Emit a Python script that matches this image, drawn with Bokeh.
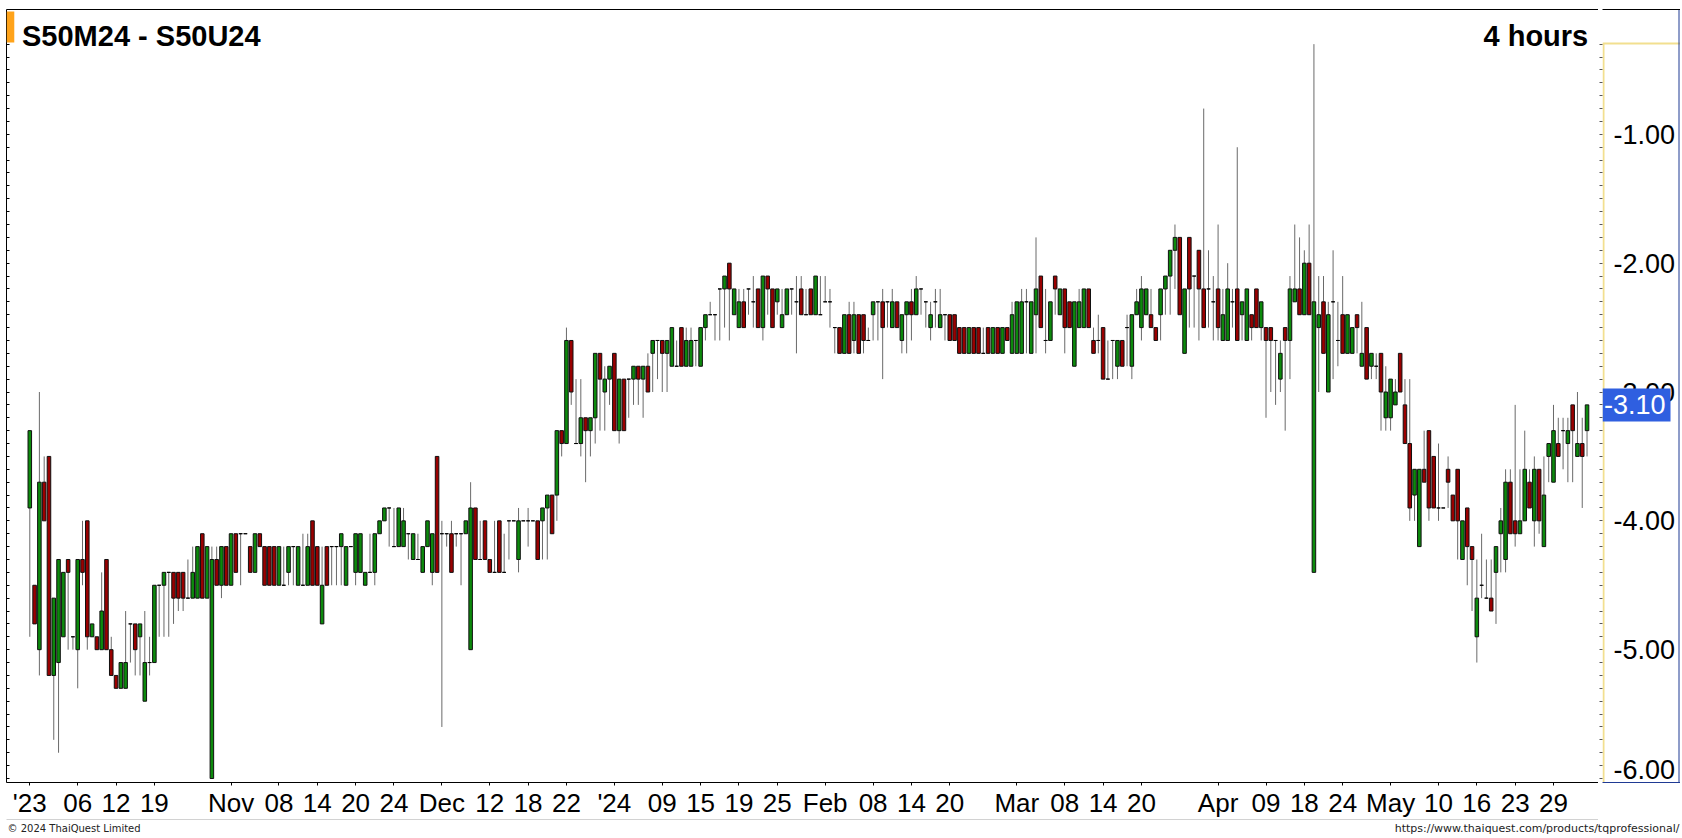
from bokeh.plotting import figure
from bokeh.layouts import row, column
from bokeh.models import ColumnDataSource, Range1d, LinearAxis, FixedTicker, Label
from bokeh.core.properties import value
from bokeh.embed import file_html
from bokeh.resources import INLINE

TITLE = "S50M24 - S50U24"
PERIOD = "4 hours"
COPYRIGHT = "\u00a9 2024  ThaiQuest Limited"
URL = "https://www.thaiquest.com/products/tqprofessional/"

OPEN = [
 -3.9,-4.5,-5.0,-3.7,-3.5,-5.2,-5.1,-4.9,-4.3,-4.9,
 -5.0,-4.3,-4.0,-4.9,-4.9,-5.0,-4.3,-5.0,-5.2,-5.3,
 -5.3,-4.8,-4.8,-4.9,-5.4,-5.1,-5.1,-4.5,-4.5,-4.4,
 -4.4,-4.4,-4.4,-4.6,-4.6,-4.6,-4.1,-4.6,-6.0,-4.3,
 -4.5,-4.2,-4.5,-4.1,-4.1,-4.1,-4.2,-4.4,-4.1,-4.2,
 -4.2,-4.2,-4.5,-4.5,-4.4,-4.2,-4.5,-4.5,-4.5,-4.0,
 -4.2,-4.8,-4.2,-4.2,-4.2,-4.2,-4.5,-4.2,-4.4,-4.4,
 -4.5,-4.4,-4.4,-4.1,-4.0,-3.9,-4.2,-4.2,-4.2,-4.1,
 -4.3,-4.3,-4.4,-4.2,-4.4,-3.5,-4.1,-4.1,-4.1,-4.1,
 -4.1,-4.1,-5.0,-3.9,-4.3,-4.0,-4.3,-4.4,-4.0,-4.4,
 -4.0,-4.0,-4.3,-4.0,-4.0,-4.0,-4.0,-4.0,-3.9,-3.8,
 -3.8,-3.3,-3.4,-2.6,-3.4,-3.4,-3.2,-3.3,-3.2,-2.7,
 -3.0,-2.9,-2.7,-3.3,-2.9,-2.9,-2.9,-2.8,-2.9,-2.8,
 -2.7,-2.6,-2.6,-2.7,-2.8,-2.8,-2.5,-2.8,-2.8,-2.6,
 -2.8,-2.5,-2.4,-2.4,-2.2,-2.2,-2.0,-2.4,-2.5,-2.3,
 -2.2,-2.3,-2.2,-2.5,-2.1,-2.2,-2.3,-2.5,-2.4,-2.2,
 -2.3,-2.2,-2.4,-2.2,-2.4,-2.4,-2.3,-2.3,-2.5,-2.5,
 -2.7,-2.4,-2.6,-2.4,-2.4,-2.6,-2.4,-2.3,-2.3,-2.3,
 -2.5,-2.3,-2.6,-2.4,-2.3,-2.4,-2.2,-2.3,-2.5,-2.3,
 -2.5,-2.4,-2.4,-2.4,-2.5,-2.5,-2.7,-2.5,-2.5,-2.7,
 -2.5,-2.7,-2.5,-2.7,-2.5,-2.7,-2.7,-2.7,-2.3,-2.7,
 -2.4,-2.1,-2.6,-2.6,-2.1,-2.4,-2.2,-2.3,-2.8,-2.5,
 -2.5,-2.2,-2.6,-2.6,-2.5,-2.9,-2.6,-2.8,-2.6,-2.5,
 -2.8,-2.4,-2.5,-2.4,-2.4,-2.5,-2.4,-2.2,-2.1,-1.9,
 -1.8,-2.7,-1.8,-2.1,-1.9,-2.2,-2.2,-2.3,-2.2,-2.6,
 -2.6,-2.3,-2.2,-2.4,-2.6,-2.4,-2.2,-2.5,-2.5,-2.5,
 -2.6,-2.9,-2.5,-2.6,-2.3,-2.2,-2.4,-2.0,-4.4,-2.5,
 -2.3,-3.0,-2.3,-2.6,-2.4,-2.7,-2.7,-2.4,-2.8,-2.5,
 -2.8,-2.8,-2.7,-3.2,-3.2,-3.1,-2.7,-3.1,-3.4,-3.8,
 -4.2,-3.6,-3.3,-3.5,-3.9,-3.9,-3.6,-3.8,-3.6,-4.3,
 -3.9,-4.2,-4.9,-4.5,-4.6,-4.6,-4.4,-4.1,-4.3,-3.7,
 -4.0,-4.1,-4.0,-3.7,-4.0,-3.6,-4.2,-3.5,-3.7,-3.4,
 -3.3,-3.4,-3.1,-3.5,-3.4,-3.3,
]
HIGH = [
 -3.3,-4.5,-3.0,-3.5,-3.5,-4.6,-4.3,-4.4,-4.3,-4.9,
 -4.3,-4.0,-4.0,-4.8,-4.9,-4.4,-4.3,-4.9,-5.2,-5.1,
 -4.7,-4.8,-4.8,-4.8,-4.7,-4.9,-4.5,-4.5,-4.4,-4.4,
 -4.4,-4.4,-4.4,-4.3,-4.2,-4.2,-4.1,-4.2,-4.2,-4.2,
 -4.2,-4.2,-4.1,-4.1,-4.1,-4.1,-4.2,-4.1,-4.1,-4.2,
 -4.2,-4.2,-4.2,-4.2,-4.2,-4.2,-4.2,-4.1,-4.1,-4.0,
 -4.2,-4.2,-4.2,-4.2,-4.2,-4.1,-4.2,-4.2,-4.1,-4.1,
 -4.4,-4.1,-4.1,-4.0,-3.9,-3.9,-3.9,-3.9,-3.9,-4.1,
 -4.1,-4.1,-4.2,-4.0,-4.1,-3.5,-4.0,-4.1,-4.0,-4.1,
 -4.1,-4.0,-3.7,-3.9,-4.0,-4.0,-4.3,-4.0,-4.0,-4.1,
 -4.0,-4.0,-3.9,-4.0,-3.9,-4.0,-4.0,-3.9,-3.8,-3.8,
 -3.3,-3.3,-2.5,-2.6,-2.9,-2.9,-3.2,-3.2,-2.7,-2.7,
 -2.8,-2.8,-2.7,-2.9,-2.9,-2.9,-2.8,-2.8,-2.8,-2.7,
 -2.6,-2.6,-2.6,-2.6,-2.5,-2.6,-2.5,-2.5,-2.5,-2.6,
 -2.5,-2.4,-2.3,-2.4,-2.2,-2.1,-2.0,-2.2,-2.2,-2.2,
 -2.2,-2.1,-2.2,-2.1,-2.1,-2.2,-2.2,-2.2,-2.2,-2.2,
 -2.1,-2.1,-2.2,-2.2,-2.1,-2.1,-2.1,-2.2,-2.5,-2.5,
 -2.4,-2.3,-2.3,-2.4,-2.4,-2.5,-2.3,-2.3,-2.2,-2.3,
 -2.2,-2.3,-2.4,-2.3,-2.2,-2.1,-2.2,-2.3,-2.3,-2.2,
 -2.2,-2.4,-2.4,-2.4,-2.5,-2.5,-2.5,-2.5,-2.5,-2.5,
 -2.5,-2.5,-2.5,-2.5,-2.5,-2.3,-2.3,-2.2,-2.2,-2.3,
 -1.8,-2.1,-2.2,-2.3,-2.1,-2.2,-2.2,-2.3,-2.3,-2.2,
 -2.2,-2.2,-2.5,-2.4,-2.5,-2.6,-2.6,-2.6,-2.6,-2.4,
 -2.4,-2.2,-2.1,-2.2,-2.2,-2.5,-2.2,-2.1,-1.9,-1.7,
 -1.8,-2.2,-1.8,-2.1,-1.9,-0.8,-1.9,-2.1,-1.7,-2.2,
 -2.0,-2.2,-1.1,-2.3,-2.2,-2.4,-2.2,-2.3,-2.5,-2.5,
 -2.6,-2.6,-2.5,-2.1,-1.7,-1.8,-1.9,-1.7,-0.3,-2.1,
 -2.1,-2.3,-1.9,-2.3,-2.1,-2.4,-2.5,-2.4,-2.3,-2.5,
 -2.7,-2.7,-2.7,-2.8,-2.9,-2.9,-2.7,-2.9,-2.9,-3.6,
 -3.6,-3.3,-3.3,-3.5,-3.4,-3.9,-3.5,-3.8,-3.6,-4.0,
 -3.9,-4.2,-4.3,-4.1,-4.3,-4.3,-4.2,-3.9,-3.6,-3.6,
 -3.1,-3.6,-3.3,-3.6,-3.5,-3.6,-3.5,-3.4,-3.1,-3.2,
 -3.2,-3.2,-3.1,-3.0,-3.2,-3.1,
]
LOW = [
 -4.9,-4.8,-5.2,-4.0,-5.2,-5.7,-5.8,-4.9,-5.0,-5.0,
 -5.3,-4.5,-5.0,-4.9,-5.0,-5.0,-5.0,-5.2,-5.3,-5.3,
 -5.3,-5.1,-5.2,-5.2,-5.4,-5.2,-5.1,-4.9,-4.9,-4.9,
 -4.8,-4.7,-4.7,-4.6,-4.6,-4.6,-4.6,-4.6,-6.0,-4.5,
 -4.6,-4.5,-4.5,-4.4,-4.5,-4.1,-4.4,-4.4,-4.2,-4.5,
 -4.5,-4.5,-4.5,-4.5,-4.5,-4.5,-4.5,-4.5,-4.5,-4.5,
 -4.5,-4.8,-4.5,-4.5,-4.5,-4.5,-4.5,-4.2,-4.5,-4.4,
 -4.5,-4.4,-4.5,-4.1,-4.0,-4.2,-4.2,-4.2,-4.2,-4.3,
 -4.3,-4.3,-4.4,-4.2,-4.5,-4.4,-5.6,-4.2,-4.4,-4.2,
 -4.5,-4.1,-5.0,-4.3,-4.3,-4.3,-4.4,-4.4,-4.4,-4.4,
 -4.3,-4.0,-4.4,-4.0,-4.2,-4.0,-4.3,-4.3,-4.3,-4.1,
 -4.0,-3.5,-3.4,-3.1,-3.4,-3.5,-3.7,-3.5,-3.4,-3.3,
 -3.3,-3.1,-3.3,-3.4,-3.3,-3.2,-3.1,-3.1,-3.2,-3.0,
 -3.0,-2.9,-3.0,-3.0,-2.8,-2.8,-2.8,-2.8,-2.8,-2.8,
 -2.8,-2.6,-2.4,-2.6,-2.6,-2.5,-2.6,-2.4,-2.5,-2.5,
 -2.4,-2.5,-2.5,-2.6,-2.4,-2.5,-2.4,-2.5,-2.4,-2.4,
 -2.7,-2.4,-2.4,-2.4,-2.4,-2.4,-2.3,-2.5,-2.7,-2.7,
 -2.7,-2.7,-2.7,-2.7,-2.7,-2.6,-2.6,-2.6,-2.9,-2.5,
 -2.5,-2.5,-2.7,-2.7,-2.6,-2.4,-2.4,-2.5,-2.6,-2.5,
 -2.5,-2.6,-2.6,-2.6,-2.7,-2.7,-2.7,-2.7,-2.7,-2.7,
 -2.7,-2.7,-2.7,-2.7,-2.6,-2.7,-2.7,-2.7,-2.7,-2.7,
 -2.7,-2.5,-2.7,-2.6,-2.4,-2.4,-2.7,-2.5,-2.8,-2.5,
 -2.5,-2.5,-2.7,-2.7,-2.9,-2.9,-2.9,-2.9,-2.8,-2.8,
 -2.9,-2.4,-2.6,-2.4,-2.5,-2.6,-2.6,-2.4,-2.4,-2.2,
 -2.4,-2.7,-2.5,-2.5,-2.6,-2.5,-2.5,-2.6,-2.6,-2.6,
 -2.6,-2.5,-2.6,-2.6,-2.6,-2.6,-2.5,-2.6,-3.2,-3.0,
 -3.1,-3.0,-3.3,-2.9,-2.3,-2.4,-2.4,-2.4,-4.4,-3.0,
 -2.7,-3.0,-2.9,-2.8,-2.7,-2.7,-2.7,-2.7,-2.8,-2.9,
 -2.9,-2.9,-3.3,-3.3,-3.3,-3.1,-3.0,-3.4,-4.0,-4.0,
 -4.2,-3.7,-4.0,-3.9,-4.0,-3.9,-3.9,-4.0,-4.3,-4.3,
 -4.5,-4.7,-5.1,-4.6,-4.6,-4.7,-4.8,-4.4,-4.4,-4.1,
 -4.2,-4.1,-4.0,-3.9,-4.2,-4.1,-4.2,-3.7,-3.7,-3.5,
 -3.6,-3.7,-3.7,-3.5,-3.9,-3.5,
]
CLOSE = [
 -3.3,-4.8,-3.7,-4.0,-5.2,-4.6,-4.3,-4.4,-4.4,-4.9,
 -4.3,-4.4,-4.9,-4.8,-5.0,-4.7,-5.0,-5.2,-5.3,-5.1,
 -5.1,-4.8,-5.0,-4.8,-5.1,-5.1,-4.5,-4.5,-4.4,-4.4,
 -4.6,-4.6,-4.6,-4.6,-4.4,-4.2,-4.6,-4.2,-4.3,-4.5,
 -4.2,-4.5,-4.1,-4.4,-4.1,-4.1,-4.4,-4.1,-4.2,-4.5,
 -4.5,-4.5,-4.2,-4.5,-4.2,-4.2,-4.2,-4.5,-4.2,-4.5,
 -4.5,-4.5,-4.5,-4.2,-4.2,-4.1,-4.2,-4.2,-4.1,-4.1,
 -4.4,-4.4,-4.1,-4.0,-3.9,-3.9,-4.2,-3.9,-4.0,-4.1,
 -4.1,-4.3,-4.2,-4.0,-4.1,-4.4,-4.1,-4.1,-4.4,-4.1,
 -4.1,-4.0,-3.9,-4.3,-4.3,-4.3,-4.4,-4.4,-4.4,-4.4,
 -4.0,-4.0,-4.0,-4.0,-4.0,-4.0,-4.3,-3.9,-3.8,-4.1,
 -3.3,-3.4,-2.6,-3.0,-3.4,-3.2,-3.3,-3.2,-2.7,-2.9,
 -2.9,-2.8,-3.3,-2.9,-3.3,-2.9,-2.8,-2.9,-2.8,-3.0,
 -2.6,-2.6,-2.7,-2.6,-2.5,-2.8,-2.8,-2.6,-2.6,-2.6,
 -2.5,-2.4,-2.4,-2.4,-2.2,-2.1,-2.2,-2.2,-2.3,-2.5,
 -2.2,-2.3,-2.5,-2.1,-2.2,-2.5,-2.2,-2.4,-2.2,-2.2,
 -2.3,-2.4,-2.4,-2.4,-2.1,-2.4,-2.3,-2.3,-2.5,-2.7,
 -2.4,-2.7,-2.4,-2.7,-2.6,-2.6,-2.3,-2.3,-2.5,-2.3,
 -2.3,-2.5,-2.4,-2.3,-2.4,-2.2,-2.2,-2.3,-2.4,-2.3,
 -2.4,-2.4,-2.6,-2.6,-2.7,-2.7,-2.5,-2.7,-2.7,-2.7,
 -2.7,-2.5,-2.7,-2.5,-2.6,-2.4,-2.3,-2.3,-2.3,-2.3,
 -2.2,-2.5,-2.6,-2.3,-2.2,-2.2,-2.5,-2.5,-2.3,-2.3,
 -2.2,-2.5,-2.7,-2.6,-2.9,-2.9,-2.6,-2.6,-2.8,-2.5,
 -2.4,-2.3,-2.2,-2.2,-2.5,-2.6,-2.2,-2.1,-1.9,-1.8,
 -2.4,-2.2,-2.2,-2.1,-2.2,-2.5,-2.2,-2.3,-2.5,-2.4,
 -2.2,-2.3,-2.6,-2.3,-2.2,-2.5,-2.5,-2.3,-2.6,-2.6,
 -2.6,-2.7,-2.6,-2.2,-2.2,-2.4,-2.0,-2.4,-2.3,-2.4,
 -2.7,-2.4,-2.3,-2.6,-2.7,-2.4,-2.5,-2.5,-2.7,-2.9,
 -2.7,-2.8,-3.0,-3.0,-2.9,-3.0,-3.0,-3.4,-3.9,-3.6,
 -3.6,-3.7,-3.9,-3.9,-3.9,-3.9,-3.7,-4.0,-4.0,-4.0,
 -4.2,-4.3,-4.6,-4.5,-4.6,-4.7,-4.2,-4.0,-3.7,-4.1,
 -4.1,-4.0,-3.6,-3.9,-3.6,-4.0,-3.8,-3.4,-3.3,-3.5,
 -3.3,-3.3,-3.3,-3.4,-3.5,-3.1,
]

TICK_BARS = [0, 10, 18, 26, 42, 52, 60, 68, 76, 86, 96, 104, 112, 122, 132, 140,
             148, 156, 166, 176, 184, 192, 206, 216, 224, 232, 248, 258, 266, 274,
             284, 294, 302, 310, 318]
TICK_LABELS = ["'23", "06", "12", "19", "Nov", "08", "14", "20", "24", "Dec", "12",
               "18", "22", "'24", "09", "15", "19", "25", "Feb", "08", "14", "20",
               "Mar", "08", "14", "20", "Apr", "09", "18", "24", "May", "10", "16",
               "23", "29"]
PRICE_TICKS = [-6.0, -5.0, -4.0, -3.0, -2.0, -1.0]
LAST = CLOSE[-1]

# ---------------------------------------------------------------- layout (page px)
TOTAL_W = 1680
MAIN_W, SIDE_W, TOP_H, FOOT_H = 1598, 82, 820, 16
FRAME_L, FRAME_R, FRAME_T, FRAME_B = 6.0, 1598.0, 9.0, 783.0
BOX_L, BOX_TOP = 1602.0, 43.0             # price box (left edge, top edge)
FIRST_BAR_PX, BAR_PX = 29.3, 4.7915
Y_TOP, Y_BOT = -0.031, -6.031
FH = FRAME_B - FRAME_T
PX_PER_UNIT = FH / (Y_TOP - Y_BOT)
BOX_TOP_V = Y_TOP - (BOX_TOP - FRAME_T) / PX_PER_UNIT

n = len(OPEN)
X = list(range(n))
body_top = [max(o, c) for o, c in zip(OPEN, CLOSE)]
body_bot = [min(o, c) for o, c in zip(OPEN, CLOSE)]


def subset(cond):
    ids = [i for i in X if cond(i)]
    return ColumnDataSource(dict(x=ids,
                                 top=[body_top[i] for i in ids],
                                 bottom=[body_bot[i] for i in ids]))


src_up = subset(lambda i: CLOSE[i] > OPEN[i])
src_dn = subset(lambda i: CLOSE[i] < OPEN[i])
src_dj = subset(lambda i: CLOSE[i] == OPEN[i])
src_w = ColumnDataSource(dict(x=X, high=HIGH, low=LOW))

yr = Range1d(Y_BOT, Y_TOP)
minor = [round(-6.0 + 0.1 * k, 1) for k in range(58)]   # -6.0 ... -0.3


def bare_axis(color, width=1):
    return LinearAxis(ticker=FixedTicker(ticks=[]), axis_line_color=color,
                      axis_line_width=width, major_tick_in=0, major_tick_out=0,
                      minor_tick_in=0, minor_tick_out=0, major_label_standoff=0)


# ================================================================ main chart
p = figure(width=MAIN_W, height=TOP_H, output_backend="svg", toolbar_location=None,
           x_range=Range1d((FRAME_L - FIRST_BAR_PX) / BAR_PX,
                           (FRAME_R - FIRST_BAR_PX) / BAR_PX),
           y_range=yr, x_axis_location=None, y_axis_location=None,
           min_border_left=int(FRAME_L), min_border_right=0,
           min_border_top=int(FRAME_T), min_border_bottom=int(TOP_H - FRAME_B))
p.grid.visible = False
p.outline_line_color = None
p.background_fill_color = "white"
p.border_fill_color = "white"

left = LinearAxis(ticker=FixedTicker(ticks=[], minor_ticks=minor), axis_line_color="black",
                  major_tick_in=0, major_tick_out=0, minor_tick_in=3, minor_tick_out=0,
                  minor_tick_line_color="black", major_label_standoff=0)
p.add_layout(left, "left")
p.add_layout(bare_axis("black"), "above")

bottom = LinearAxis(ticker=FixedTicker(ticks=TICK_BARS),
                    major_label_overrides=dict(zip(TICK_BARS, TICK_LABELS)),
                    axis_line_color="black", major_tick_in=0, major_tick_out=3,
                    minor_tick_in=0, minor_tick_out=0, major_tick_line_color="black",
                    major_label_text_font="Liberation Sans",
                    major_label_text_font_size="26px",
                    major_label_text_color="black", major_label_standoff=2)
p.add_layout(bottom, "below")
p.add_layout(bare_axis("#a6a6a6", 2), "below")

p.segment(x0="x", y0="low", x1="x", y1="high", source=src_w,
          line_color="#6a6a6a", line_width=1)
p.vbar(x="x", width=0.74, top="top", bottom="bottom", source=src_up,
       fill_color="#0c8a0c", line_color="#101010", line_width=1)
p.vbar(x="x", width=0.74, top="top", bottom="bottom", source=src_dn,
       fill_color="#9a0000", line_color="#101010", line_width=1)
p.vbar(x="x", width=0.74, top="top", bottom="bottom", source=src_dj,
       fill_color="black", line_color="black", line_width=1)

# screen units are measured from the frame's bottom-left corner
p.add_layout(Label(x=0, y=FRAME_B - BOX_TOP, x_units="screen", y_units="screen", text=" ",
                   text_font_size="28px", text_baseline="bottom",
                   background_fill_color="#ffa31a"))
p.add_layout(Label(x=21.5 - FRAME_L, y=FRAME_B - 36.5, x_units="screen", y_units="screen",
                   text=TITLE, text_font="Liberation Sans", text_font_style="bold",
                   text_font_size="29px", text_color="black", text_baseline="alphabetic"))
p.add_layout(Label(x=1483 - FRAME_L, y=FRAME_B - 36.5, x_units="screen", y_units="screen",
                   text=PERIOD, text_font="Liberation Sans", text_font_style="bold",
                   text_font_size="29px", text_color="black", text_baseline="alphabetic"))

# ================================================================ price scale
side_w = TOTAL_W - BOX_L
s = figure(width=SIDE_W, height=TOP_H, output_backend="svg", toolbar_location=None,
           x_range=Range1d(0, side_w), y_range=yr,
           x_axis_location=None, y_axis_location=None,
           min_border_left=int(BOX_L - FRAME_R), min_border_right=0,
           min_border_top=int(FRAME_T), min_border_bottom=int(TOP_H - FRAME_B))
s.grid.visible = False
s.outline_line_color = None
s.background_fill_color = "white"
s.border_fill_color = "white"

s_ticks = LinearAxis(ticker=FixedTicker(ticks=[], minor_ticks=minor), axis_line_color=None,
                     major_tick_in=0, major_tick_out=0, minor_tick_in=0, minor_tick_out=3,
                     minor_tick_line_color="#555555", major_label_standoff=0)
s.add_layout(s_ticks, "left")
s.add_layout(bare_axis("black"), "above")
s.add_layout(bare_axis("#1f3a93"), "below")

# box edges: yellow left/top, dark blue right
s.segment(x0=[1, 0], y0=[Y_BOT, BOX_TOP_V], x1=[1, side_w], y1=[BOX_TOP_V, BOX_TOP_V],
          line_color="#f2df8f", line_width=2)
s.segment(x0=[side_w - 1.5], y0=[Y_BOT], x1=[side_w - 1.5], y1=[Y_TOP],
          line_color="#1f3a93", line_width=1)

half_text = 13.0
offsets = [-max(0.0, half_text - (t - Y_BOT) * PX_PER_UNIT) for t in PRICE_TICKS]
s.text(x=[11] * len(PRICE_TICKS), y=PRICE_TICKS, text=[f"{t:.2f}" for t in PRICE_TICKS],
       y_offset=offsets, text_font=value("Liberation Sans"), text_font_size="27px",
       text_color="black", text_baseline="middle", text_align="left")

s.rect(x=[34], y=[LAST], width=68, height=33, height_units="screen",
       fill_color="#2f5fe0", line_color=None)
s.text(x=[1.5], y=[LAST], text=[f"{LAST:.2f}"], text_font=value("Liberation Sans"),
       text_font_size="27px", text_color="white", text_baseline="middle",
       text_align="left")

# ================================================================ footer
f = figure(width=TOTAL_W, height=FOOT_H, output_backend="svg", toolbar_location=None,
           x_range=Range1d(0, TOTAL_W), y_range=Range1d(0, FOOT_H),
           x_axis_location=None, y_axis_location=None, min_border=0)
f.grid.visible = False
f.outline_line_color = None
f.background_fill_color = "white"
f.border_fill_color = "white"
f.text(x=[7], y=[FOOT_H / 2], text=[COPYRIGHT], text_font=value("DejaVu Sans"),
       text_font_size="10px", text_color="#222222", text_baseline="middle")
f.text(x=[TOTAL_W - 1], y=[FOOT_H / 2], text=[URL], text_font=value("DejaVu Sans"),
       text_font_size="11px", text_color="#222222", text_baseline="middle",
       text_align="right")

layout = column(row(p, s), f)
open("out.html", "w").write(file_html(layout, INLINE))
